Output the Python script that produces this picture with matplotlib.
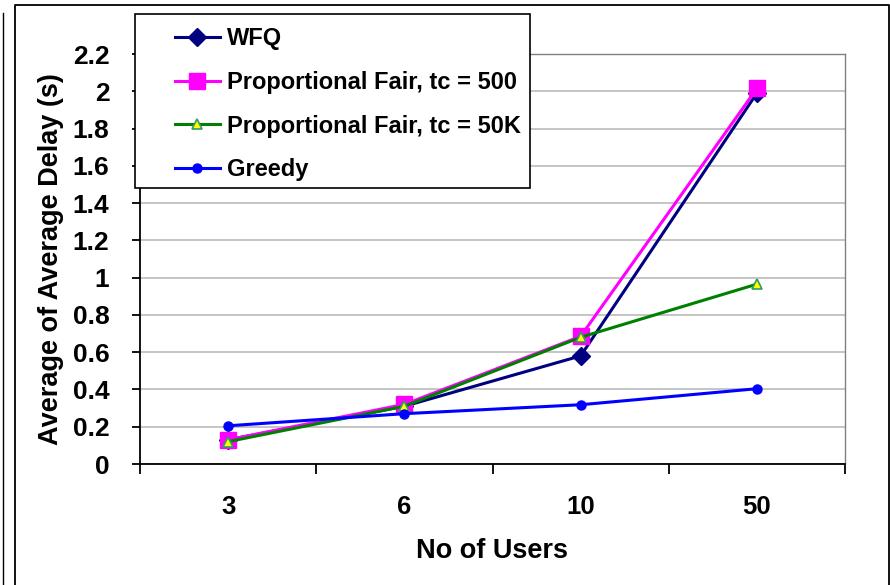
import matplotlib
matplotlib.use("Agg")
import matplotlib.pyplot as plt
from matplotlib.lines import Line2D
from matplotlib.patches import Rectangle

plt.rcParams['font.family'] = ['Liberation Sans', 'DejaVu Sans']
plt.rcParams['font.weight'] = 'bold'

# number of users per run
users = ['3', '6', '10', '50']

# average delay in seconds
wfq = [0.13, 0.31, 0.58, 1.99]
pf_500 = [0.13, 0.32, 0.685, 2.015]
pf_50k = [0.12, 0.31, 0.68, 0.965]
greedy = [0.205, 0.27, 0.318, 0.404]

yticks = [0, 0.2, 0.4, 0.6, 0.8, 1, 1.2, 1.4, 1.6, 1.8, 2, 2.2]
ytick_labels = ['0', '0.2', '0.4', '0.6', '0.8', '1', '1.2', '1.4', '1.6', '1.8', '2', '2.2']

W, H = 890, 585
fig = plt.figure(figsize=(W / 100, H / 100), dpi=100)
ax = fig.add_axes([140 / W, 1 - 464 / H, 705 / W, 410 / H])

x = list(range(len(users)))
ax.plot(x, wfq, color='#000080', lw=2.2, marker='D', ms=9,
        mfc='#000080', mec='#000080', label='WFQ')
ax.plot(x, pf_500, color='#FF00FF', lw=2.2, marker='s', ms=11,
        mfc='#FF00FF', mec='#FF00FF', label='Proportional Fair, tc = 500')
ax.plot(x, pf_50k, color='#008000', lw=2.2, marker='^', ms=7,
        mfc='#FFFF00', mec='#339966', mew=1.2, label='Proportional Fair, tc = 50K')
ax.plot(x, greedy, color='#0000FF', lw=2.2, marker='o', ms=6.5,
        mfc='#0000FF', mec='#0000FF', label='Greedy')

ax.set_xlim(-0.5, len(users) - 0.5)
ax.set_ylim(0, 2.2)

# category boundaries get the tick marks, centres get the labels
ax.set_xticks([i - 0.5 for i in range(len(users) + 1)])
ax.set_xticklabels([])
ax.set_xticks(x, minor=True)
ax.set_xticklabels(users, minor=True, fontsize=18.5, fontweight='bold')
ax.tick_params(axis='x', which='major', direction='out', length=7, width=1.3)
ax.tick_params(axis='x', which='minor', length=0, pad=22)

ax.set_yticks(yticks)
ax.set_yticklabels(ytick_labels, fontsize=19, fontweight='bold')
ax.tick_params(axis='y', direction='out', length=6, width=1.3, pad=16)

ax.yaxis.grid(True, color='#C0C0C0', lw=1.3)
ax.set_axisbelow(True)

ax.spines['left'].set_color('black')
ax.spines['bottom'].set_color('black')
ax.spines['left'].set_linewidth(1.3)
ax.spines['bottom'].set_linewidth(1.3)
for s in ('top', 'right'):
    ax.spines[s].set_color('#808080')
    ax.spines[s].set_linewidth(1.0)

ax.set_xlabel('No of Users', fontsize=19.5, fontweight='bold', labelpad=14)
ax.set_ylabel('Average of Average Delay (s)', fontsize=19.5, fontweight='bold', labelpad=6)

# legend box sitting over the top-left of the plot
box = Rectangle((135 / W, 1 - 188 / H), 395 / W, 174 / H, transform=fig.transFigure,
                facecolor='white', edgecolor='black', lw=1.2, zorder=2)
fig.patches.append(box)
leg = fig.legend(loc='upper left', bbox_to_anchor=(175 / W, 1 - 27 / H),
                 bbox_transform=fig.transFigure, frameon=False, borderpad=0,
                 borderaxespad=0, handlelength=1.9,
                 handletextpad=0.3, labelspacing=0.88,
                 prop={'weight': 'bold', 'size': 17})
leg.set_zorder(3)

# outer border lines
fig.lines.append(Line2D([15 / W, 15 / W, 888.5 / W, 888.5 / W], [0, 1 - 5 / H, 1 - 5 / H, 0],
                        transform=fig.transFigure, color='black', lw=1.3))
fig.lines.append(Line2D([3 / W, 3 / W], [0, 1 - 13 / H],
                        transform=fig.transFigure, color='black', lw=1.0))

fig.savefig('out.png', dpi=100)
